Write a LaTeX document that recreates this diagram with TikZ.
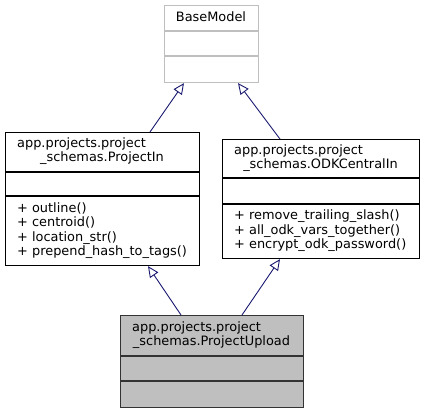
\documentclass[tikz,border=0pt]{standalone}
\usepackage{fontspec}
\setmainfont{DejaVu Sans}
\usetikzlibrary{arrows.meta}
\definecolor{edgeblue}{RGB}{25,25,112}
\definecolor{boxgray}{RGB}{191,191,191}
\tikzset{  cls/.style={draw,line width=1.1pt,inner sep=0,anchor=north west},
  lbl/.style={inner sep=0,font=\fontsize{12.9}{14.5}\selectfont,text height=9.5pt,text depth=3pt},
  ops/.style={inner sep=0,anchor=west,align=left,font=\fontsize{12.9}{14.5}\selectfont},
  inherit/.style={edgeblue,line width=0.9pt,-{Triangle[open,length=11pt,width=10pt]}} }

\begin{document}
\begin{tikzpicture}[x=1pt,y=-1pt]
  \useasboundingbox (0,0) rectangle (424,412);
  % classes
  \node[cls,draw=boxgray,minimum width=94pt,minimum height=77pt] (base) at (164,5) {};
  \node[cls,minimum width=194pt,minimum height=133pt] (pin) at (5,132) {};
  \node[cls,minimum width=197pt,minimum height=119pt] (odk) at (222,139) {};
  \node[cls,draw=black!80,fill=boxgray,minimum width=183pt,minimum height=92pt] (up) at (120,315) {};
  % compartments
  \draw[boxgray,line width=1.1pt] ([yshift=-26pt]base.north west) -- ([yshift=-26pt]base.north east);
  \draw[boxgray,line width=1.1pt] ([yshift=-51pt]base.north west) -- ([yshift=-51pt]base.north east);
  \draw[line width=1.1pt] ([yshift=-40pt]pin.north west) -- ([yshift=-40pt]pin.north east);
  \draw[line width=1.1pt] ([yshift=-64pt]pin.north west) -- ([yshift=-64pt]pin.north east);
  \draw[line width=1.1pt] ([yshift=-39pt]odk.north west) -- ([yshift=-39pt]odk.north east);
  \draw[line width=1.1pt] ([yshift=-65pt]odk.north west) -- ([yshift=-65pt]odk.north east);
  \draw[black!80,line width=1.1pt] ([yshift=-41pt]up.north west) -- ([yshift=-41pt]up.north east);
  \draw[black!80,line width=1.1pt] ([yshift=-66pt]up.north west) -- ([yshift=-66pt]up.north east);
  % labels
  \node[lbl] (basename) at (211,18) {BaseModel};
  \node[lbl,anchor=west] (pinname) at (17,144.5) {app.projects.project};
  \node[lbl] (pinname2) at (102,158.5) {\_schemas.ProjectIn};
  \node[ops] (pinops) at (17,230.5) {+ outline()\\+ centroid()\\+ location\_str()\\+ prepend\_hash\_to\_tags()};
  \node[lbl,anchor=west] (odkname) at (234,151.5) {app.projects.project};
  \node[lbl] (odkname2) at (320.5,165.5) {\_schemas.ODKCentralIn};
  \node[ops] (odkops) at (234,231) {+ remove\_trailing\_slash()\\+ all\_odk\_vars\_together()\\+ encrypt\_odk\_password()};
  \node[lbl,anchor=west] (upname) at (132,328.5) {app.projects.project};
  \node[lbl] (upname2) at (211.5,342.5) {\_schemas.ProjectUpload};
  % inheritance
  \draw[inherit] ([xshift=61pt]up.north west) -- ([xshift=143pt]pin.south west);
  \draw[inherit] ([xshift=122pt]up.north west) -- ([xshift=58pt]odk.south west);
  \draw[inherit] ([xshift=145pt]pin.north west) -- ([xshift=20pt]base.south west);
  \draw[inherit] ([xshift=58pt]odk.north west) -- ([xshift=74pt]base.south west);
\end{tikzpicture}
\end{document}
